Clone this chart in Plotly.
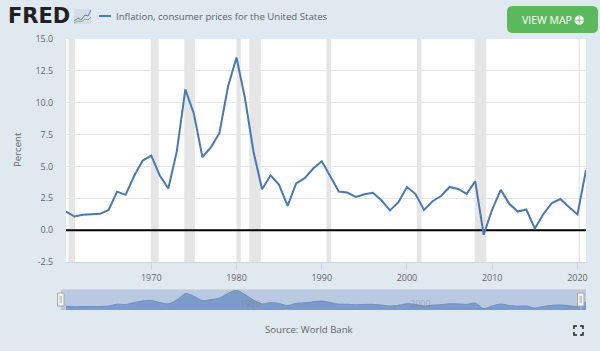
import plotly.graph_objects as go

years = list(range(1960, 2022))
inflation = [1.46,1.07,1.20,1.24,1.28,1.59,3.02,2.77,4.27,5.46,5.84,4.29,3.27,6.18,11.05,9.14,5.74,6.50,7.63,11.25,
             13.55,10.33,6.13,3.21,4.30,3.55,1.90,3.66,4.08,4.83,5.40,4.23,3.03,2.95,2.61,2.81,2.93,2.34,1.55,2.19,
             3.38,2.83,1.59,2.27,2.68,3.39,3.23,2.85,3.84,-0.36,1.64,3.16,2.07,1.46,1.62,0.12,1.26,2.13,2.44,1.81,1.23,4.70]
rec_start = [1960.3,1969.95,1973.87,1980.0,1981.5,1990.55,2001.15,2007.95,2020.12]
rec_end   = [1961.05,1970.87,1975.12,1980.5,1982.85,1991.1,2001.7,2009.3,2020.28]
y_ticks = [-2.5,0,2.5,5,7.5,10,12.5,15]
y_labels = ["-2.5","0.0","2.5","5.0","7.5","10.0","12.5","15.0"]
x_ticks = [1970,1980,1990,2000,2010,2020]
series_name = "Inflation, consumer prices for the United States"

W, H = 600, 351
L, R, T, B = 66, 586, 39, 310
def fx(p): return (p - L) / (R - L)
def fy(p): return (B - p) / (B - T)
BG = "#e1e9f0"
FONT = "Open Sans, sans-serif"

fig = go.Figure()
fig.add_trace(go.Scatter(x=years, y=inflation, mode="lines", line=dict(color="#4a78b0", width=2),
                         showlegend=False, hoverinfo="skip", xaxis="x", yaxis="y"))
nav_floor = -1.4
fig.add_trace(go.Scatter(x=years, y=[nav_floor]*len(years), mode="lines", line=dict(width=0),
                         showlegend=False, hoverinfo="skip", xaxis="x2", yaxis="y2"))
fig.add_trace(go.Scatter(x=years, y=inflation, mode="lines", fill="tonexty", fillcolor="#7d9bc8",
                         line=dict(color="#6f8fc0", width=1, shape="spline", smoothing=0.8),
                         showlegend=False, hoverinfo="skip", xaxis="x2", yaxis="y2"))

shapes = []
for a, b in zip(rec_start, rec_end):
    shapes.append(dict(type="rect", xref="x", yref="paper", x0=a, x1=b, y0=fy(262), y1=1.0,
                       fillcolor="#e5e5e5", line_width=0, layer="between"))
shapes.append(dict(type="line", xref="x", yref="y", x0=1960, x1=2021, y0=0, y1=0,
                   line=dict(color="#000000", width=2), layer="between"))
def pshape(t, x0, y0, x1, y1, **kw):
    return dict(type=t, xref="paper", yref="paper", x0=fx(x0), x1=fx(x1), y0=fy(y0), y1=fy(y1), **kw)
def ppath(pts, close=False):
    s = "M" + " L".join(f"{fx(x):.5f},{fy(y):.5f}" for x, y in pts)
    return s + (" Z" if close else "")

# navigator band and handles
shapes.append(pshape("rect", 61, 290, 586, 310, fillcolor="#b9c9e2", line_width=0, layer="below"))
shapes.append(pshape("line", 61, 289.5, 586, 289.5, line=dict(color="#cfd6de", width=1)))
for cx in (61, 581):
    shapes.append(pshape("line", cx, 306, cx, 310, line=dict(color="#c4c8cc", width=1)))
    shapes.append(pshape("rect", cx-3.5, 293, cx+3, 306, fillcolor="#f2f2f2", line=dict(color="#a9a9a9", width=1)))
    shapes.append(pshape("rect", cx-1.5, 296, cx+1, 303, fillcolor="#c8c8c8", line_width=0))
# legend key
shapes.append(pshape("line", 99, 16, 111, 16, line=dict(color="#4a78b0", width=2)))
# logo sparkline
shapes.append(pshape("rect", 74, 9, 91, 24, fillcolor="#d3dde8", line_width=0))
shapes.append(dict(type="path", xref="paper", yref="paper",
                   path=ppath([(74,21),(78,18),(81,20),(85,15),(88,16),(91,10)]),
                   line=dict(color="#5d86b5", width=1)))
shapes.append(dict(type="path", xref="paper", yref="paper",
                   path=ppath([(74,23),(78,21),(81,22),(85,19),(88,20),(91,17)]),
                   line=dict(color="#8db26a", width=1)))
# button (rounded)
bx0, bx1, by0, by1, r = 507, 598, 6, 33, 6
btn = (f"M{fx(bx0+r):.5f},{fy(by0):.5f} L{fx(bx1-r):.5f},{fy(by0):.5f} "
       f"Q{fx(bx1):.5f},{fy(by0):.5f} {fx(bx1):.5f},{fy(by0+r):.5f} L{fx(bx1):.5f},{fy(by1-r):.5f} "
       f"Q{fx(bx1):.5f},{fy(by1):.5f} {fx(bx1-r):.5f},{fy(by1):.5f} L{fx(bx0+r):.5f},{fy(by1):.5f} "
       f"Q{fx(bx0):.5f},{fy(by1):.5f} {fx(bx0):.5f},{fy(by1-r):.5f} L{fx(bx0):.5f},{fy(by0+r):.5f} "
       f"Q{fx(bx0):.5f},{fy(by0):.5f} {fx(bx0+r):.5f},{fy(by0):.5f} Z")
shapes.append(dict(type="path", xref="paper", yref="paper", path=btn, fillcolor="#5cb85c", line_width=0))
# globe
shapes.append(pshape("circle", 574.5, 15.5, 584, 25, fillcolor="#ffffff", line_width=0))
shapes.append(pshape("line", 574.5, 20.2, 584, 20.2, line=dict(color="#5cb85c", width=0.8)))
shapes.append(pshape("line", 579.2, 15.5, 579.2, 25, line=dict(color="#5cb85c", width=0.8)))
# expand icon corners
for (cx, cy, dx, dy) in [(574,326,1,1),(583,326,-1,1),(574,335,1,-1),(583,335,-1,-1)]:
    shapes.append(dict(type="path", xref="paper", yref="paper",
                       path=ppath([(cx+3*dx,cy),(cx,cy),(cx,cy+3*dy)]),
                       line=dict(color="#222222", width=1.5)))

def note(text, x, y, size, color="#666666", anchor="left", family=FONT, angle=0):
    return dict(text=text, xref="paper", yref="paper", x=fx(x), y=fy(y), xanchor=anchor, yanchor="middle",
                showarrow=False, textangle=angle, font=dict(size=size, color=color, family=family))
annotations = [
    note("<b>FRED</b>", 6, 16.5, 21, "#222222", family="DejaVu Sans, sans-serif"),
    note(series_name, 114, 16, 9.6, "#5a6470"),
    note("Percent", 17, 150, 9.6, "#666666", "center", angle=-90),
    note("Source: World Bank", 309, 329, 9.6, "#666666", "center"),
    note("VIEW MAP", 520, 20, 10.5, "#ffffff"),
    note("1980", 250, 303, 9, "rgba(120,120,120,0.45)", "center"),
    note("2000", 420, 303, 9, "rgba(120,120,120,0.45)", "center"),
]

fig.update_layout(
    width=W, height=H, autosize=False,
    margin=dict(l=L, r=W-R, t=T, b=H-B, pad=0),
    paper_bgcolor=BG, plot_bgcolor="#ffffff",
    font=dict(family=FONT, color="#666666", size=9),
    showlegend=False, shapes=shapes, annotations=annotations,
    xaxis=dict(domain=[0,1], anchor="y", range=[1960,2021], tickvals=x_ticks, ticks="outside", ticklen=7,
               tickcolor="#ccd6eb", tickwidth=1, showgrid=False, zeroline=False, showline=True,
               linecolor="#ccd6eb", linewidth=1, tickfont=dict(size=9, color="#666666"), fixedrange=True),
    yaxis=dict(domain=[fy(262),1], anchor="x", range=[-2.5,15], tickvals=y_ticks, ticktext=y_labels,
               ticks="outside", ticklen=10, tickcolor="rgba(0,0,0,0)", showgrid=True, gridcolor="#e6e6e6",
               gridwidth=1, zeroline=False, showline=False, tickfont=dict(size=9, color="#666666"), fixedrange=True),
    xaxis2=dict(domain=[0,1], anchor="y2", range=[1960,2021], visible=False, fixedrange=True),
    yaxis2=dict(domain=[0,fy(289.5)], anchor="x2", range=[nav_floor,14.2], visible=False, fixedrange=True),
)
fig.write_html("out.html", config=dict(displayModeBar=False),
               post_script="document.body.style.margin='0';document.body.style.background='#e1e9f0';document.body.style.overflow='hidden';")
